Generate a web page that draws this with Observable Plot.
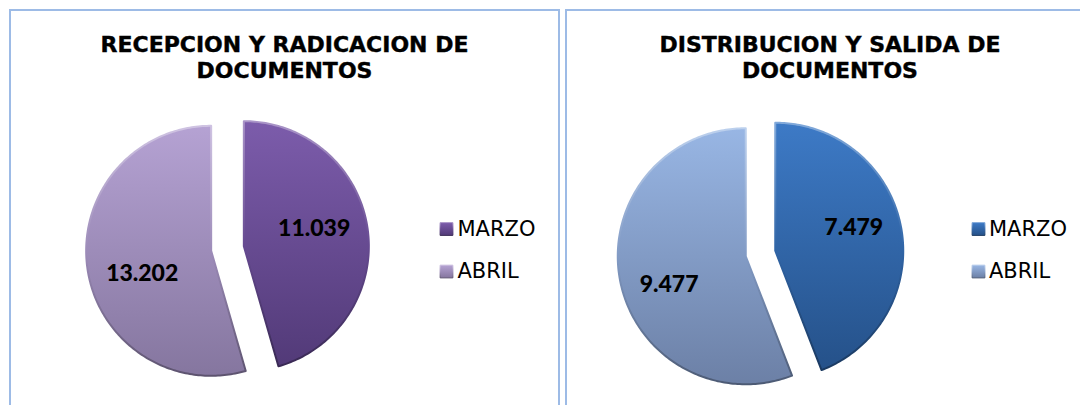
<!DOCTYPE html>
<html><head><meta charset="utf-8">
<script src="https://cdn.jsdelivr.net/npm/d3@7"></script>
<script src="https://cdn.jsdelivr.net/npm/@observablehq/plot@0.6"></script>
<style>
html,body{margin:0;padding:0;background:#fff}
body{width:1080px;height:405px;overflow:hidden;position:relative;font-family:"DejaVu Sans",Verdana,sans-serif}
.panel{position:absolute;border:2px solid #9dbbe6;box-sizing:border-box;background:#fff}
.title{position:absolute;left:0;right:0;text-align:center;font-weight:bold;font-size:22px;line-height:25.6px;letter-spacing:0px;color:#000;white-space:nowrap;-webkit-text-stroke:0.4px #000}
.plot{position:absolute;overflow:visible}
</style></head><body>
<script>
// ---- data ----
const months = ["MARZO", "ABRIL"];
const recepcionValues = [11039, 13202];
const distribucionValues = [7479, 9477];
const titles = [
  ["RECEPCION Y RADICACION DE", "DOCUMENTOS"],
  ["DISTRIBUCION Y SALIDA DE", "DOCUMENTOS"]
];
const recepcionColors = [["#7c5cab", "#523a78"], ["#b5a2d3", "#85769f"]];
const distribucionColors = [["#3d7ac6", "#255189"], ["#98b6e4", "#6c80a6"]];

// ---- layout (page pixel coordinates) ----
const panels = [
  {values: recepcionValues, colors: recepcionColors, title: titles[0],
   left: 9, top: 9, width: 551, height: 430,
   cx: 227, cy: 248, r: 125, explode: 16.5, labelR: 0.58,
   legendX: 446, legendTextX: 457, legendY: 228.5, legendStep: 42.5},
  {values: distribucionValues, colors: distribucionColors, title: titles[1],
   left: 565, top: 9, width: 530, height: 430,
   cx: 760, cy: 253, r: 128, explode: 15, labelR: 0.64,
   legendX: 978, legendTextX: 988.5, legendY: 228.5, legendStep: 42.5}
];
const labelShift = [-6, -10]; // degrees, per slice (Excel label placement)
const fmt = d3.formatLocale({decimal: ",", thousands: ".", grouping: [3], currency: ["", ""]}).format(",d");
const PAGE_H = 405;

panels.forEach((P, p) => {
  const panel = document.createElement("div");
  panel.className = "panel";
  Object.assign(panel.style, {left: P.left + "px", top: P.top + "px", width: P.width + "px", height: P.height + "px"});
  document.body.appendChild(panel);

  const t = document.createElement("div");
  t.className = "title";
  t.style.top = (45 - 12.8 - P.top - 2) + "px";
  t.innerHTML = P.title.join("<br>");
  panel.appendChild(t);

  // pie geometry from data
  const arcs = d3.pie().sort(null)(P.values);
  const slicePts = [];
  const labels = [];
  arcs.forEach((a, i) => {
    const mid = (a.startAngle + a.endAngle) / 2;
    const ox = P.cx + P.explode * Math.sin(mid);
    const oy = P.cy - P.explode * Math.cos(mid);
    slicePts.push({slice: i, x: ox, y: oy});
    const n = Math.max(2, Math.ceil((a.endAngle - a.startAngle) / (Math.PI / 180)));
    for (let k = 0; k <= n; k++) {
      const ang = a.startAngle + (a.endAngle - a.startAngle) * k / n;
      slicePts.push({slice: i, x: ox + P.r * Math.sin(ang), y: oy - P.r * Math.cos(ang)});
    }
    const la = mid + labelShift[i] * Math.PI / 180;
    labels.push({x: ox + P.labelR * P.r * Math.sin(la), y: oy - P.labelR * P.r * Math.cos(la), text: fmt(P.values[i])});
  });

  const x0 = P.left + 2, y0 = P.top + 2;
  const W = 1080 - x0 > P.width - 4 ? P.width - 4 : 1080 - x0;
  const H = PAGE_H - y0;

  const marks = [];
  arcs.forEach((a, i) => {
    marks.push(Plot.line(slicePts.filter(d => d.slice === i), {
      x: "x", y: "y", curve: "linear-closed",
      fill: `url(#f${p}_${i})`, stroke: `url(#s${p}_${i})`, strokeWidth: 2, strokeLinejoin: "round"
    }));
  });
  marks.push(Plot.text(labels, {
    x: "x", y: "y", text: "text", fontFamily: "Lato, 'Liberation Sans', sans-serif",
    fontWeight: 900, fontSize: 23, fill: "#000"
  }));
  months.forEach((m, i) => {
    marks.push(Plot.dot([m], {
      x: () => P.legendX, y: () => P.legendY + i * P.legendStep,
      symbol: "square", r: 7.2, fill: `url(#f${p}_${i})`, stroke: `url(#s${p}_${i})`, strokeWidth: 1
    }));
  });
  marks.push(Plot.text(months, {
    x: () => P.legendTextX, y: (d, i) => P.legendY + i * P.legendStep,
    text: d => d, textAnchor: "start", fontFamily: "DejaVu Sans", fontSize: 21, fill: "#000"
  }));

  const svg = Plot.plot({
    width: W, height: H, margin: 0,
    x: {domain: [x0, x0 + W], range: [0, W], axis: null},
    y: {domain: [y0, y0 + H], range: [0, H], axis: null},
    style: {background: "transparent", overflow: "visible"},
    marks
  });
  svg.classList.add("plot");
  svg.style.left = x0 + "px";
  svg.style.top = y0 + "px";

  const defs = d3.select(svg).insert("defs", ":first-child");
  P.colors.forEach((c, i) => {
    const g = defs.append("linearGradient").attr("id", `f${p}_${i}`).attr("x1", 0).attr("y1", 0).attr("x2", 0).attr("y2", 1);
    g.append("stop").attr("offset", "0%").attr("stop-color", c[0]);
    g.append("stop").attr("offset", "100%").attr("stop-color", c[1]);
    const s = defs.append("linearGradient").attr("id", `s${p}_${i}`).attr("x1", 0).attr("y1", 0).attr("x2", 0).attr("y2", 1);
    s.append("stop").attr("offset", "0%").attr("stop-color", d3.interpolateRgb(c[0], "#fff")(0.35));
    s.append("stop").attr("offset", "50%").attr("stop-color", d3.interpolateRgb(c[0], c[1])(0.5));
    s.append("stop").attr("offset", "100%").attr("stop-color", d3.interpolateRgb(c[1], "#000")(0.3));
  });
  document.body.appendChild(svg);
});
</script>
</body></html>
